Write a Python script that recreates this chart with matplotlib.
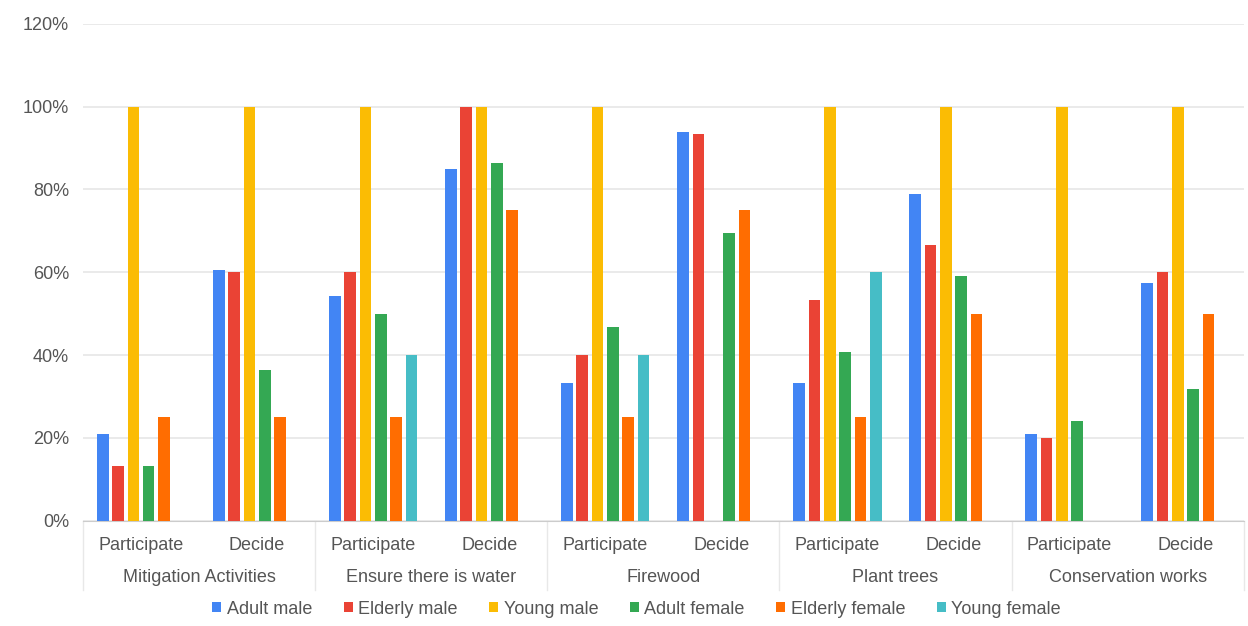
import numpy as np
import matplotlib.pyplot as plt
import matplotlib.transforms as mtransforms

plt.rcParams["font.family"] = ["Liberation Sans", "DejaVu Sans"]

# Data (percent)
activities = ["Mitigation Activities", "Ensure there is water", "Firewood",
              "Plant trees", "Conservation works"]
actions = ["Participate", "Decide"]
series_names = ["Adult male", "Elderly male", "Young male",
                "Adult female", "Elderly female", "Young female"]
colors = ["#4285F4", "#EA4335", "#FBBC04", "#34A853", "#FF6D01", "#46BDC6"]

adult_male = [21, 60.5, 54.2, 85, 33.3, 93.8, 33.3, 78.8, 21, 57.5]
elderly_male = [13.3, 60, 60, 100, 40, 93.3, 53.3, 66.7, 20, 60]
young_male = [100, 100, 100, 100, 100, 0, 100, 100, 100, 100]
adult_female = [13.3, 36.4, 50, 86.4, 46.7, 69.6, 40.7, 59, 24, 31.8]
elderly_female = [25, 25, 25, 75, 25, 75, 25, 50, 0, 50]
young_female = [0, 0, 40, 0, 40, 0, 60, 0, 0, 0]

values = [adult_male, elderly_male, young_male, adult_female,
          elderly_female, young_female]

fig = plt.figure(figsize=(12.48, 6.26), dpi=100)
ax = fig.add_axes([0.0665, 0.168, 0.93, 0.794])

n_groups = len(activities) * len(actions)
x = np.arange(n_groups)
pitch = 0.132
width = 0.1
for i, (name, vals, c) in enumerate(zip(series_names, values, colors)):
    ax.bar(x + (i - 2.5) * pitch, vals, width, color=c, label=name, zorder=3)

ax.set_xlim(-0.5, n_groups - 0.5)
ax.set_ylim(0, 120)
ax.set_yticks(np.arange(0, 121, 20))
ax.set_yticklabels([f"{v}%" for v in range(0, 121, 20)])
ax.tick_params(axis="y", length=0, pad=10, labelsize=13, labelcolor="#555555")
ax.tick_params(axis="x", length=0, labelbottom=False)
ax.grid(axis="y", color="#e6e6e6", linewidth=1.2, zorder=0)
for s in ["top", "right", "left"]:
    ax.spines[s].set_visible(False)
ax.spines["bottom"].set_color("#cccccc")

# two-level category labels
trans = mtransforms.blended_transform_factory(ax.transData, ax.transAxes)
for k in range(n_groups):
    ax.text(k, -0.049, actions[k % 2], transform=trans, ha="center",
            va="center", fontsize=13, color="#555555")
for j, act in enumerate(activities):
    ax.text(2 * j + 0.5, -0.115, act, transform=trans, ha="center",
            va="center", fontsize=13, color="#555555")
for b in range(0, n_groups + 1, 2):
    ax.plot([b - 0.5, b - 0.5], [0, -0.139], transform=trans, color="#e8e8e8",
            linewidth=1, clip_on=False)

handles, labels = ax.get_legend_handles_labels()
leg = fig.legend(handles, labels, loc="center", bbox_to_anchor=(0.51, 0.027),
                 ncol=6, frameon=False, fontsize=13, handlelength=0.5,
                 handleheight=0.5, handletextpad=0.3, columnspacing=1.75)
for t in leg.get_texts():
    t.set_color("#555555")

fig.savefig("out.png", dpi=100, facecolor="white")
